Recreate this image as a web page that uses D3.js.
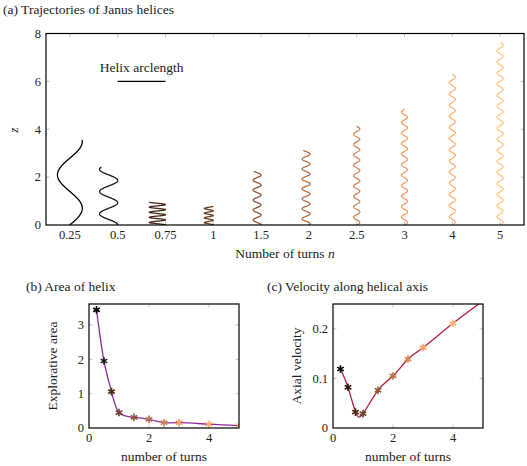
<!DOCTYPE html>
<html>
<head>
<meta charset="utf-8">
<script src="https://cdn.jsdelivr.net/npm/d3@7"></script>
<style>
  body { margin: 0; background: white; }
  svg text { font-family: "Liberation Serif", "Times New Roman", serif; fill: #222; }
</style>
</head>
<body>
<script>
// categories (number of turns)
let turns = ['0.25', '0.5', '0.75', '1', '1.5', '2', '2.5', '3', '4', '5']
let turns_num = [0.25, 0.5, 0.75, 1, 1.5, 2, 2.5, 3, 4, 5]
let colors = ['#000000', '#23160e', '#472c1c', '#6a422a', '#8e5838',
              '#b16f46', '#d48555', '#f89b63', '#ffb171', '#ffc77f']

// helix trajectories: final height z, number of coils, lateral radius (in category units), start phase (deg)
let helix_height = [3.55, 2.42, 0.96, 0.79, 2.25, 3.12, 4.12, 4.83, 6.29, 7.62]
let helix_coils = [1.27, 2.6, 4.5, 4, 5.4, 7.5, 9.5, 11, 13.5, 16.5]
let helix_radius = [0.26, 0.19, 0.17, 0.094, 0.084, 0.084, 0.065, 0.063, 0.063, 0.063]
let helix_phase = [0, 90, 90, 90, 90, 45, 0, 0, 0, 0]

// explorative area and axial velocity per number of turns
let area = [3.44, 1.95, 1.06, 0.45, 0.31, 0.25, 0.155, 0.155, 0.11, 0.07]
let velocity = [0.119, 0.082, 0.032, 0.029, 0.076, 0.105, 0.139, 0.162, 0.211, 0.256]

let z_ticks = [0, 2, 4, 6, 8]
let area_ticks = [0, 1, 2, 3]
let vel_ticks = [0, 0.1, 0.2]
let n_ticks = [0, 2, 4]

let W = 527, H = 466
let tick_color = '#b4b4b4'
let font_label = 13.5
let font_tick = 12.5

let svg = d3.select('body').append('svg').attr('width', W).attr('height', H)

function frame(g, x0, x1, y0, y1) {
    g.append('rect')
        .attr('x', x0).attr('y', y0)
        .attr('width', x1 - x0).attr('height', y1 - y0)
        .attr('fill', 'none').attr('stroke', 'black').attr('stroke-width', 1.2)
}

function inner_ticks(g, xs, x_vals, ys, y_vals) {
    let x0 = xs.range()[0], x1 = xs.range()[1]
    let y0 = ys.range()[0], y1 = ys.range()[1]
    x_vals.forEach(v => {
        let px = xs(v)
        g.append('line').attr('x1', px).attr('x2', px).attr('y1', y0).attr('y2', y0 - 3.5)
            .attr('stroke', tick_color).attr('stroke-width', 0.8)
        g.append('line').attr('x1', px).attr('x2', px).attr('y1', y1).attr('y2', y1 + 3.5)
            .attr('stroke', tick_color).attr('stroke-width', 0.8)
    })
    y_vals.forEach(v => {
        let py = ys(v)
        g.append('line').attr('x1', x0).attr('x2', x0 + 3.5).attr('y1', py).attr('y2', py)
            .attr('stroke', tick_color).attr('stroke-width', 0.8)
        g.append('line').attr('x1', x1).attr('x2', x1 - 3.5).attr('y1', py).attr('y2', py)
            .attr('stroke', tick_color).attr('stroke-width', 0.8)
    })
}

function tick_labels(g, xs, x_vals, ys, y_vals, fmt_x, fmt_y) {
    let y0 = ys.range()[0], x0 = xs.range()[0]
    g.selectAll('text.xt').data(x_vals).enter().append('text')
        .attr('x', d => xs(d)).attr('y', y0 + 14)
        .attr('text-anchor', 'middle').attr('font-size', font_tick)
        .text(fmt_x)
    g.selectAll('text.yt').data(y_vals).enter().append('text')
        .attr('x', x0 - 5).attr('y', d => ys(d) + 4.3)
        .attr('text-anchor', 'end').attr('font-size', font_tick)
        .text(fmt_y)
}

// ---------- (a) trajectories ----------
let ga = svg.append('g')
let xa = d3.scalePoint().domain(turns).range([46, 524]).padding(0.5)
let band = xa.step()
let ya = d3.scaleLinear().domain([0, 8]).range([225, 33.5])

ga.append('text').attr('x', 3).attr('y', 14).attr('font-size', font_label)
    .text('(a) Trajectories of Janus helices')

inner_ticks(ga, {range: () => [46, 524]}, [], ya, z_ticks.slice(1, 4))
turns.forEach(t => {
    ga.append('line').attr('x1', xa(t)).attr('x2', xa(t)).attr('y1', 225).attr('y2', 221.5)
        .attr('stroke', tick_color).attr('stroke-width', 0.8)
    ga.append('line').attr('x1', xa(t)).attr('x2', xa(t)).attr('y1', 33.5).attr('y2', 37)
        .attr('stroke', tick_color).attr('stroke-width', 0.8)
})

let helix_line = d3.line().x(d => d[0]).y(d => d[1])
turns.forEach((t, i) => {
    let phi = helix_phase[i] * Math.PI / 180
    let amp = helix_radius[i] * band
    let pts = d3.range(0, 1.0001, 1 / 400).map(s => {
        let th = 2 * Math.PI * helix_coils[i] * s
        return [xa(t) + amp * (Math.sin(th + phi) - Math.sin(phi)), ya(helix_height[i] * s)]
    })
    ga.append('path').attr('d', helix_line(pts))
        .attr('fill', 'none').attr('stroke', colors[i]).attr('stroke-width', 1.3)
})

// arclength scale bar
ga.append('line').attr('x1', xa('0.5')).attr('x2', xa('0.75')).attr('y1', ya(6)).attr('y2', ya(6))
    .attr('stroke', 'black').attr('stroke-width', 1.3)
ga.append('text').attr('x', (xa('0.5') + xa('0.75')) / 2).attr('y', ya(6) - 9)
    .attr('text-anchor', 'middle').attr('font-size', font_label).text('Helix arclength')

frame(ga, 46, 524, 33.5, 225)

ga.selectAll('text.xt').data(turns).enter().append('text')
    .attr('x', d => xa(d)).attr('y', 239)
    .attr('text-anchor', 'middle').attr('font-size', font_tick).text(d => d)
ga.selectAll('text.yt').data(z_ticks).enter().append('text')
    .attr('x', 41).attr('y', d => ya(d) + 4.3)
    .attr('text-anchor', 'end').attr('font-size', font_tick).text(d => d)

ga.append('text').attr('transform', 'translate(18,130) rotate(-90)')
    .attr('text-anchor', 'middle').attr('font-size', font_label)
    .attr('font-style', 'italic').text('z')
let xl = ga.append('text').attr('x', 285).attr('y', 258)
    .attr('text-anchor', 'middle').attr('font-size', font_label)
xl.append('tspan').text('Number of turns ')
xl.append('tspan').attr('font-style', 'italic').text('n')

// ---------- (b) and (c) ----------
let star = d3.symbol().type(d3.symbolAsterisk).size(40)

function small_panel(x0, x1, title, title_x, values, y_max, y_ticks, y_label, line_color, fmt_y, clip_id) {
    let g = svg.append('g')
    let xs = d3.scaleLinear().domain([0, 5]).range([x0, x1])
    let ys = d3.scaleLinear().domain([0, y_max]).range([428, 304])

    g.append('text').attr('x', title_x).attr('y', 291).attr('font-size', font_label).text(title)

    g.append('clipPath').attr('id', clip_id).append('rect')
        .attr('x', x0).attr('y', 304).attr('width', x1 - x0).attr('height', 124)

    inner_ticks(g, xs, n_ticks.slice(1), ys, y_ticks.slice(1))

    let pts = turns_num.map((n, i) => [n, values[i]])
    let inner = g.append('g').attr('clip-path', `url(#${clip_id})`)
    inner.append('path')
        .attr('d', d3.line().x(d => xs(d[0])).y(d => ys(d[1])).curve(d3.curveNatural)(pts))
        .attr('fill', 'none').attr('stroke', line_color).attr('stroke-width', 1.3)
    inner.selectAll('path.mark').data(pts).enter().append('path')
        .attr('class', 'mark')
        .attr('transform', d => `translate(${xs(d[0])},${ys(d[1])})`)
        .attr('d', star)
        .attr('fill', 'none')
        .attr('stroke', (d, i) => colors[i]).attr('stroke-width', 1.6)

    frame(g, x0, x1, 304, 428)
    tick_labels(g, xs, n_ticks, ys, y_ticks, d => d, fmt_y)

    g.append('text').attr('transform', `translate(${x0 - 32},366) rotate(-90)`)
        .attr('text-anchor', 'middle').attr('font-size', font_label).text(y_label)
    g.append('text').attr('x', (x0 + x1) / 2).attr('y', 461)
        .attr('text-anchor', 'middle').attr('font-size', font_label).text('number of turns')
}

small_panel(89, 239, '(b) Area of helix', 26, area, 3.61, area_ticks,
    'Explorative area', '#8e2c9e', d => d, 'clip-b')
small_panel(333, 483, '(c) Velocity along helical axis', 267, velocity, 0.25, vel_ticks,
    'Axial velocity', '#b01c3c', d => d === 0 ? '0' : d3.format('.1f')(d), 'clip-c')
</script>
</body>
</html>
